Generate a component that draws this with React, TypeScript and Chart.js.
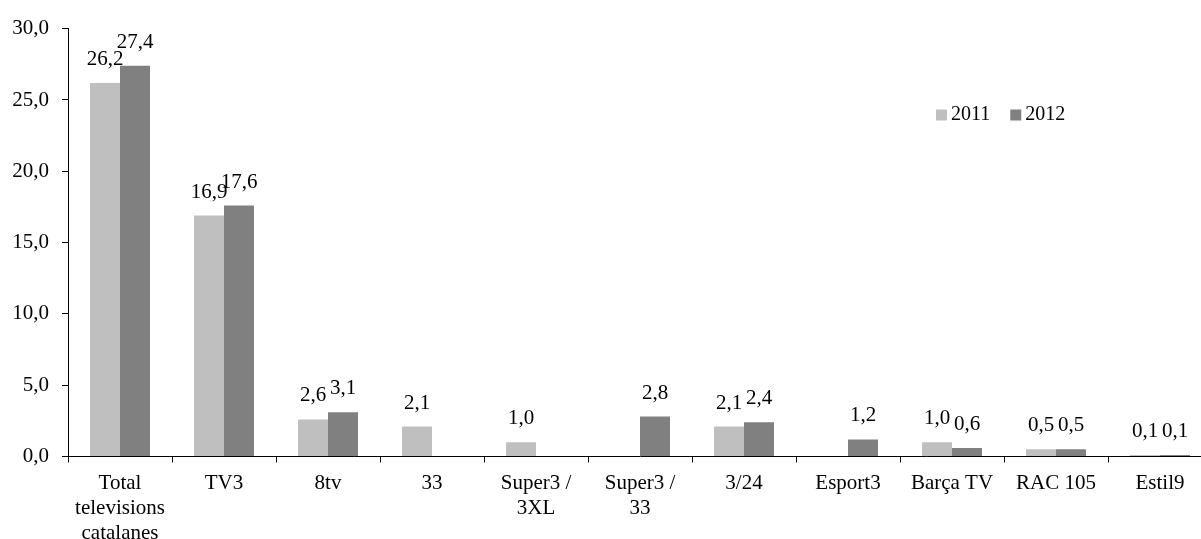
import React, { useEffect, useRef } from "react";
import { Chart, registerables } from "chart.js";

Chart.register(...registerables);

const categories: (string | string[])[] = [
  ["Total", "televisions", "catalanes"],
  "TV3",
  "8tv",
  "33",
  ["Super3 /", "3XL"],
  ["Super3 /", "33"],
  "3/24",
  "Esport3",
  "Barça TV",
  "RAC 105",
  "Estil9",
];

const series2011: (number | null)[] = [26.2, 16.9, 2.6, 2.1, 1.0, null, 2.1, null, 1.0, 0.5, 0.1];
const series2012: (number | null)[] = [27.4, 17.6, 3.1, null, null, 2.8, 2.4, 1.2, 0.6, 0.5, 0.1];

const seriesNames = ["2011", "2012"];
const seriesColors = ["#bfbfbf", "#808080"];

const yMin = 0;
const yMax = 30;
const yStep = 5;

const FONT = "'Liberation Serif', 'Times New Roman', serif";

const fmt = (v: number) => v.toFixed(1).replace(".", ",");

const dataLabelPlugin = {
  id: "dataLabels",
  afterDatasetsDraw(chart: any) {
    const ctx = chart.ctx;
    ctx.save();
    ctx.font = `21px ${FONT}`;
    ctx.fillStyle = "#000";
    ctx.textAlign = "center";
    ctx.textBaseline = "alphabetic";
    chart.data.datasets.forEach((ds: any, di: number) => {
      const meta = chart.getDatasetMeta(di);
      meta.data.forEach((el: any, i: number) => {
        const v = ds.data[i];
        if (v === null || v === undefined) return;
        ctx.fillText(fmt(v), el.x, el.y - 18);
      });
    });
    ctx.restore();
  },
};

const legendPlugin = {
  id: "insideLegend",
  afterDraw(chart: any) {
    const ctx = chart.ctx;
    ctx.save();
    ctx.font = `20px ${FONT}`;
    ctx.textBaseline = "middle";
    ctx.textAlign = "left";
    let x = 936;
    const y = 115;
    chart.data.datasets.forEach((ds: any) => {
      ctx.fillStyle = ds.backgroundColor;
      ctx.fillRect(x, y - 5.5, 11, 11);
      ctx.fillStyle = "#000";
      ctx.fillText(ds.label, x + 15, y);
      x += 15 + ctx.measureText(ds.label).width + 20;
    });
    ctx.restore();
  },
};

export default function App() {
  const ref = useRef<HTMLCanvasElement | null>(null);

  useEffect(() => {
    document.body.style.margin = "0";
    const canvas = ref.current;
    if (!canvas) return;
    const chart = new Chart(canvas, {
      type: "bar",
      data: {
        labels: categories,
        datasets: [
          {
            label: seriesNames[0],
            data: series2011,
            backgroundColor: seriesColors[0],
            categoryPercentage: 60 / 104,
            barPercentage: 1,
          },
          {
            label: seriesNames[1],
            data: series2012,
            backgroundColor: seriesColors[1],
            categoryPercentage: 60 / 104,
            barPercentage: 1,
          },
        ],
      },
      options: {
        responsive: false,
        animation: false,
        devicePixelRatio: 1,
        layout: { padding: { top: 28.7, left: 0, right: 0, bottom: 0 } },
        plugins: {
          legend: { display: false },
          tooltip: { enabled: false },
        },
        scales: {
          x: {
            offset: true,
            grid: {
              offset: true,
              drawOnChartArea: false,
              drawTicks: true,
              tickLength: 6,
              color: "#000",
            },
            border: { display: true, color: "#000", width: 1 },
            ticks: {
              font: { family: FONT, size: 21, lineHeight: 25 / 21 },
              color: "#000",
              padding: 8,
              maxRotation: 0,
              minRotation: 0,
              autoSkip: false,
            },
            afterFit: (scale: any) => {
              scale.height = 82.5;
            },
          },
          y: {
            min: yMin,
            max: yMax,
            grid: {
              drawOnChartArea: false,
              drawTicks: true,
              tickLength: 6,
              color: "#000",
            },
            border: { display: true, color: "#000", width: 1 },
            ticks: {
              stepSize: yStep,
              font: { family: FONT, size: 21 },
              color: "#000",
              padding: 13,
              callback: (v: any) => fmt(Number(v)),
            },
            afterFit: (scale: any) => {
              scale.width = 68;
            },
          },
        },
      },
      plugins: [dataLabelPlugin, legendPlugin],
    });
    return () => chart.destroy();
  }, []);

  return (
    <div
      style={{
        position: "fixed",
        left: 0,
        top: 0,
        width: 1201,
        height: 539,
        overflow: "hidden",
        background: "#fff",
      }}
    >
      <canvas ref={ref} width={1212} height={539} style={{ width: 1212, height: 539, display: "block" }} />
    </div>
  );
}
